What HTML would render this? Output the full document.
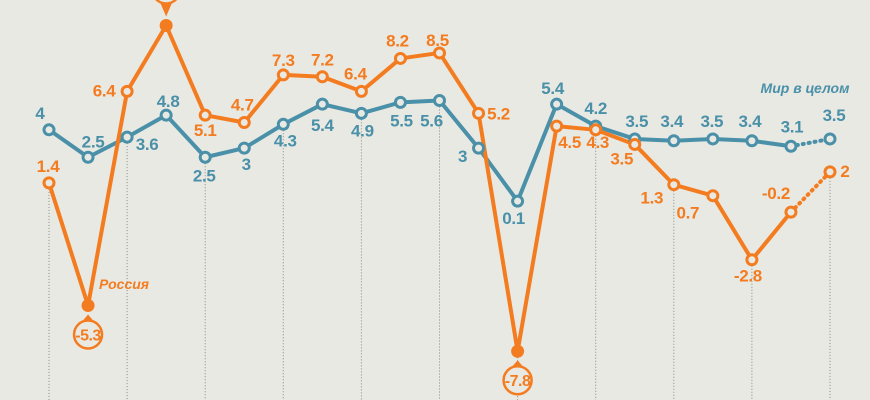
<!DOCTYPE html>
<html><head><meta charset="utf-8"><style>
html,body{margin:0;padding:0;background:#e9e9e3;}
svg{display:block;font-family:"Liberation Sans",sans-serif;font-weight:bold;}
</style></head><body>
<svg id="c" width="870" height="400"></svg>
<script>
const years = [1997,1998,1999,2000,2001,2002,2003,2004,2005,2006,2007,2008,2009,2010,2011,2012,2013,2014,2015,2016,2017];
const worldValues = [4,2.5,3.6,4.8,2.5,3,4.3,5.4,4.9,5.5,5.6,3,0.1,5.4,4.2,3.5,3.4,3.5,3.4,3.1,3.5];
const russiaValues = [1.4,-5.3,6.4,10,5.1,4.7,7.3,7.2,6.4,8.2,8.5,5.2,-7.8,4.5,4.3,3.5,1.3,0.7,-2.8,-0.2,2];
const worldLabels = ["4","2.5","3.6","4.8","2.5","3","4.3","5.4","4.9","5.5","5.6","3","0.1","5.4","4.2","3.5","3.4","3.5","3.4","3.1","3.5"];
const russiaLabels = ["1.4","-5.3","6.4","10","5.1","4.7","7.3","7.2","6.4","8.2","8.5","5.2","-7.8","4.5","4.3","3.5","1.3","0.7","-2.8","-0.2","2"];

const NS="http://www.w3.org/2000/svg";
const svg=document.getElementById('c');
const x=i=>49+i*39.05;
const yW=v=>203-18.3*v;
const yR=v=>208.5-18.3*v;
const OR="#f47c20", BL="#4a90a8";
function mk(t,a,p){const e=document.createElementNS(NS,t);for(const k in a)e.setAttribute(k,a[k]);(p||svg).appendChild(e);return e;}

// label offsets (layout only)
const wOff=[[-9,-17],[5,-16],[20,7],[2,-14],[-1,18],[2,16],[2,16],[0,21],[1,17],[1,18],[-8,20],[-16,8],[-4,17],[-4,-16],[0,-18],[2,-18],[-2,-20],[-1,-18],[-2,-20],[1,-20],[4,-24]];
const rOff=[[-1,-17],[0,0],[-23,-1],[0,0],[0,15],[-2,-18],[0,-15],[0,-17],[-6,-18],[-3,-18],[-2,-13],[20,0],[0,0],[13,16],[2,12],[-13,14],[-22,13],[-25,17],[-4,16],[-15,-19],[15,-1]];

// dotted verticals
for(let i=0;i<years.length;i+=2){
  const top=Math.max(yW(worldValues[i]),yR(russiaValues[i]));
  const l=mk('line',{x1:x(i),x2:x(i),y1:top+6,y2:400,stroke:'#888','stroke-width':1,'stroke-dasharray':'1,2'});
  
  
}

function series(vals,yf,col,name){
  const n=vals.length;
  let d='';
  for(let i=0;i<n-1;i++)d+=(i?'L':'M')+x(i)+','+yf(vals[i]);
  const p=mk('path',{d:d,fill:'none',stroke:col,'stroke-width':4,'stroke-linejoin':'round'});
  
  
  const f=mk('line',{x1:x(n-2),y1:yf(vals[n-2]),x2:x(n-1),y2:yf(vals[n-1]),stroke:col,'stroke-width':4,'stroke-dasharray':'1,5','stroke-linecap':'round'});
  
  
}
series(worldValues,yW,BL,'world');
series(russiaValues,yR,OR,'russia');

function points(vals,labels,yf,col,name,off,badges){
  vals.forEach((v,i)=>{
    const cx=x(i),cy=yf(v);
    if(badges.includes(i)){
      const c=mk('circle',{cx:cx,cy:cy,r:6.5,fill:col});
      
      
      const up=v>0;
      const by=up?cy-36:cy+29;
      const g=mk('g',{});
      
      
      mk('circle',{cx:cx,cy:by,r:14,fill:'#e9e9e3',stroke:col,'stroke-width':2.5},g);
      const ty=up?by+13:by-13, tip=up?cy-9:cy+9;
      mk('polygon',{points:`${cx-6},${ty} ${cx+6},${ty} ${cx},${tip}`,fill:col},g);
      const t=mk('text',{x:cx,y:by+6,'text-anchor':'middle','font-size':16,'letter-spacing':-0.5,fill:col},g);
      t.textContent=labels[i];
    }else{
      const c=mk('circle',{cx:cx,cy:cy,r:5,fill:'#e9e9e3',stroke:col,'stroke-width':3});
      
      
      const t=mk('text',{x:cx+off[i][0],y:cy+off[i][1]+6,'text-anchor':'middle','font-size':17,'letter-spacing':-0.3,fill:col});
      
      
      t.textContent=labels[i];
    }
  });
}
points(worldValues,worldLabels,yW,BL,'world',wOff,[]);
points(russiaValues,russiaLabels,yR,OR,'russia',rOff,[1,3,12]);

const l1=mk('text',{x:805,y:93,'text-anchor':'middle','font-size':14,'font-style':'italic',fill:BL});


l1.textContent='Мир в целом';
const l2=mk('text',{x:124,y:289,'text-anchor':'middle','font-size':14,'font-style':'italic',fill:OR});


l2.textContent='Россия';
</script>
</body></html>
